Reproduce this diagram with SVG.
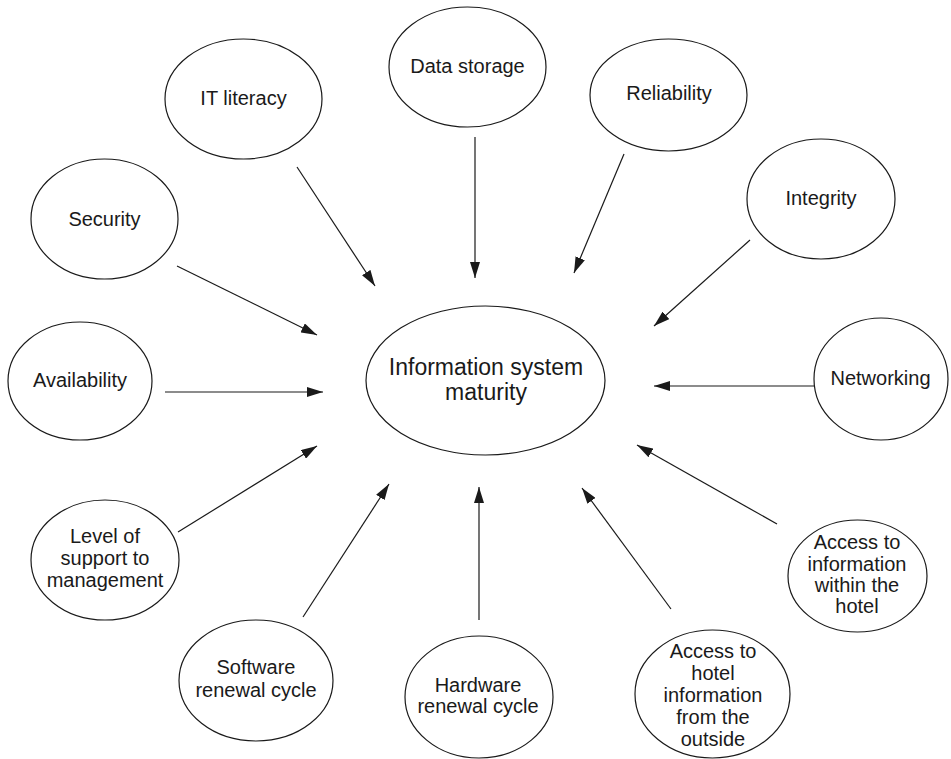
<svg xmlns="http://www.w3.org/2000/svg" width="951" height="759" viewBox="0 0 951 759">
<defs>
<marker id="ah" markerUnits="userSpaceOnUse" markerWidth="16" markerHeight="10" refX="16" refY="5" orient="auto">
<path d="M0,0 L16,5 L0,10 z" fill="#1a1a1a"/>
</marker>
<style>
.n ellipse{fill:#fff;stroke:#1a1a1a;stroke-width:1.2}
.n text{font-family:"Liberation Sans",Arial,sans-serif;font-size:20px;fill:#1a1a1a;text-anchor:middle}
#central text{font-size:23px}
#edges line{stroke:#1a1a1a;stroke-width:1.2;marker-end:url(#ah)}
</style>
</defs>
<rect width="951" height="759" fill="#fff"/>
<g id="edges">
<line x1="297" y1="167" x2="375" y2="286"/>
<line x1="475" y1="137" x2="475" y2="278"/>
<line x1="624" y1="154" x2="574" y2="273"/>
<line x1="177" y1="266" x2="317" y2="335"/>
<line x1="750" y1="240" x2="654" y2="326"/>
<line x1="165" y1="392" x2="323" y2="392"/>
<line x1="814" y1="386" x2="654" y2="386"/>
<line x1="178" y1="532" x2="317" y2="446"/>
<line x1="303" y1="617" x2="389" y2="484"/>
<line x1="479" y1="620" x2="479" y2="487"/>
<line x1="671" y1="609" x2="582" y2="488"/>
<line x1="777" y1="524" x2="637" y2="445"/>
</g>
<g id="central" class="n"><ellipse cx="485.5" cy="380.5" rx="119.5" ry="74.5"/><text x="486" y="375">Information system</text><text x="486" y="400">maturity</text></g>
<g id="it-literacy" class="n"><ellipse cx="243.5" cy="99" rx="78.5" ry="60"/><text x="243.5" y="105">IT literacy</text></g>
<g id="data-storage" class="n"><ellipse cx="467.5" cy="67" rx="78.5" ry="60"/><text x="467.5" y="73">Data storage</text></g>
<g id="reliability" class="n"><ellipse cx="668.5" cy="95" rx="78.5" ry="56"/><text x="669" y="100">Reliability</text></g>
<g id="integrity" class="n"><ellipse cx="821" cy="199" rx="74" ry="60"/><text x="821" y="205">Integrity</text></g>
<g id="security" class="n"><ellipse cx="104.5" cy="219" rx="73.5" ry="60"/><text x="104.5" y="226">Security</text></g>
<g id="availability" class="n"><ellipse cx="80" cy="381" rx="72" ry="59"/><text x="80" y="387">Availability</text></g>
<g id="networking" class="n"><ellipse cx="881" cy="379" rx="67" ry="61"/><text x="880.5" y="385">Networking</text></g>
<g id="level-support" class="n"><ellipse cx="105" cy="560" rx="74" ry="60"/><text x="105" y="543">Level of</text><text x="105" y="565">support to</text><text x="105" y="587">management</text></g>
<g id="software" class="n"><ellipse cx="256" cy="680.5" rx="77" ry="60.5"/><text x="256" y="674">Software</text><text x="256" y="697">renewal cycle</text></g>
<g id="hardware" class="n"><ellipse cx="479" cy="697" rx="74" ry="61"/><text x="478" y="692">Hardware</text><text x="478" y="713">renewal cycle</text></g>
<g id="access-outside" class="n"><ellipse cx="712.5" cy="694" rx="77.5" ry="64"/><text x="713" y="658">Access to</text><text x="713" y="680">hotel</text><text x="713" y="702">information</text><text x="713" y="724">from the</text><text x="713" y="746">outside</text></g>
<g id="access-within" class="n"><ellipse cx="857.5" cy="576" rx="69.5" ry="56"/><text x="857" y="549">Access to</text><text x="857" y="571">information</text><text x="857" y="592">within the</text><text x="857" y="613">hotel</text></g>
</svg>
